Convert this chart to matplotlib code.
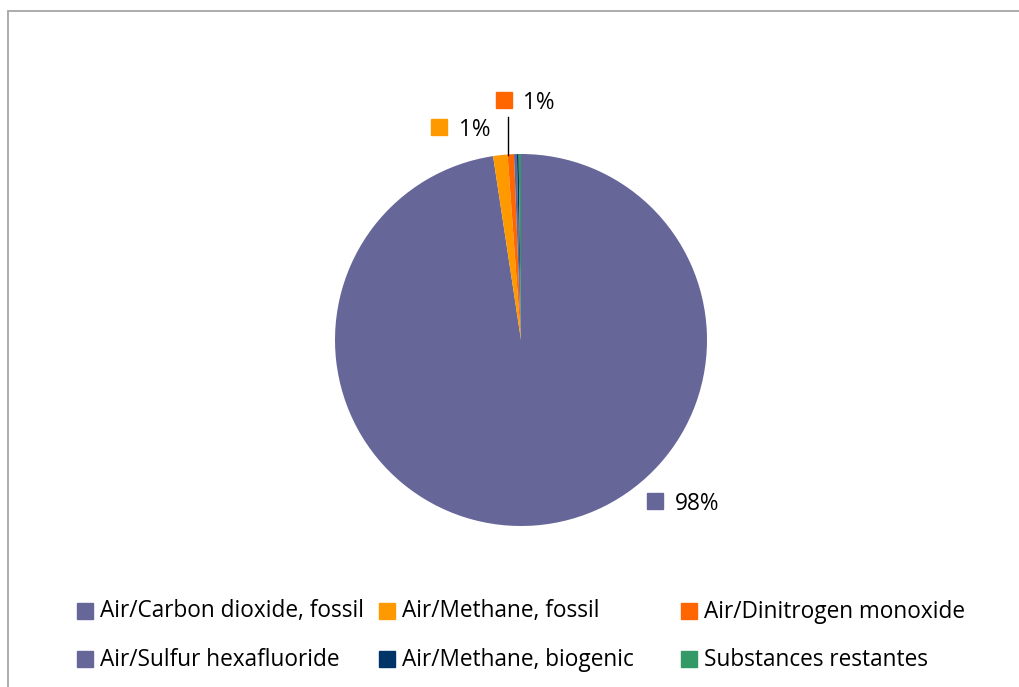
import matplotlib.pyplot as plt
from matplotlib.patches import Rectangle
from matplotlib.lines import Line2D

# shares of each substance (percent)
substances = ['Air/Carbon dioxide, fossil', 'Air/Methane, fossil', 'Air/Dinitrogen monoxide',
              'Air/Sulfur hexafluoride', 'Air/Methane, biogenic', 'Substances restantes']
shares = [97.6, 1.25, 0.55, 0.25, 0.15, 0.2]
colors = ['#666699', '#FF9900', '#FF6600', '#666699', '#003366', '#339966']
label_text = ['98%', '1%', '1%', '', '', '']

plt.rcParams['font.family'] = ['Open Sans', 'DejaVu Sans']
FS = 16.3

W, H = 1019, 687
fig = plt.figure(figsize=(W / 100, H / 100), dpi=100)

# chart border (runs off the right/bottom edge like the original export)
fig.patches.append(Rectangle((7.5 / W, -0.05), 1.1, 1.05 - 10.5 / H, transform=fig.transFigure,
                             fill=False, edgecolor='#A6A6A6', linewidth=1.3))

cx, cy, r = 521, 340, 186
ax = fig.add_axes([(cx - r) / W, (H - cy - r) / H, 2 * r / W, 2 * r / H])
ax.pie(shares, colors=colors, startangle=90, counterclock=False,
       wedgeprops=dict(linewidth=0))
ax.set_xlim(-1, 1)
ax.set_ylim(-1, 1)
ax.set_aspect('equal')
ax.axis('off')

# data label spots, in pie radius units (square marker position)
label_pos = {0: (0.72, -0.868), 1: (-0.441, 1.145), 2: (-0.094, 1.29)}
for i, (lx, ly) in label_pos.items():
    ax.plot([lx], [ly], marker='s', markersize=11, color=colors[i], clip_on=False, linestyle='none')
    ax.text(lx + 0.105, ly - 0.015, label_text[i], fontsize=FS, va='center', ha='left', clip_on=False)

# leader line for the dinitrogen monoxide label
ax.plot([-0.07, -0.07], [1.2, 0.995], color='black', linewidth=1, clip_on=False)

# legend drawn as a 3-column grid (square centres, text baselines)
col_x = [84.5, 386.5, 688.5]
row_y = [610.5, 658.5]
for k, name in enumerate(substances):
    x = col_x[k % 3]
    y = row_y[k // 3]
    fig.add_artist(Line2D([x / W], [1 - y / H], marker='s', markersize=11,
                          color=colors[k], linestyle='none', transform=fig.transFigure))
    fig.text((x + 15) / W, 1 - (y + 7) / H, name, fontsize=FS, va='baseline', ha='left')

fig.savefig('out.png', dpi=100)
